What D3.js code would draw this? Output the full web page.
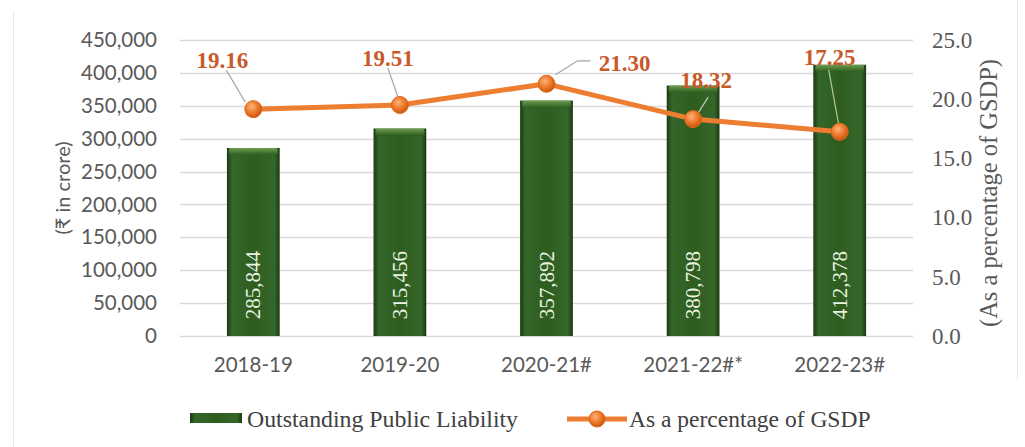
<!DOCTYPE html>
<html>
<head>
<meta charset="utf-8">
<script src="https://cdn.jsdelivr.net/npm/d3@7"></script>
<style>
  html, body { margin: 0; padding: 0; background: #ffffff; }
  svg { display: block; }
</style>
</head>
<body>
<svg id="chart" width="1025" height="447"></svg>
<script>
// ---- data ----
const categories = ["2018-19", "2019-20", "2020-21#", "2021-22#*", "2022-23#"];
const liability = [285844, 315456, 357892, 380798, 412378];
const gsdpPct = [19.16, 19.51, 21.30, 18.32, 17.25];
const leftTicks = [0, 50000, 100000, 150000, 200000, 250000, 300000, 350000, 400000, 450000];
const rightTicks = [0, 5, 10, 15, 20, 25];
const seriesNames = ["Outstanding Public Liability", "As a percentage of GSDP"];
const leftTitle = "(₹ in crore)";
const rightTitle = "(As a percentage of GSDP)";

// ---- layout ----
const W = 1025, H = 447;
const plot = { left: 180, right: 913, top: 40, bottom: 336 };
const SANS = "Lato, 'Liberation Sans', sans-serif";
const SERIF = "'Liberation Serif', 'Times New Roman', serif";
// label offsets relative to each point (layout, not data)
const labelLayout = [
  { dx: -31, dy: -49, leader: [[-27, -39], [-8, -7]] },
  { dx: -12, dy: -47, leader: [[-12, -37], [-2, -8]] },
  { dx: 78, dy: -21, leader: [[44, -23], [31, -23], [9, -9]] },
  { dx: 13, dy: -39, leader: [[15, -22], [5, -6]] },
  { dx: -10, dy: -75, leader: [[-11, -62], [-1, -7]] }
];

const svg = d3.select("#chart");
const defs = svg.append("defs");

const x = d3.scaleBand().domain(categories).range([plot.left, plot.right])
  .paddingInner(0.64).paddingOuter(0.32);
const yL = d3.scaleLinear().domain([0, 450000]).range([plot.bottom, plot.top]);
const yR = d3.scaleLinear().domain([0, 25]).range([plot.bottom, plot.top]);

// gradients
const barGrad = defs.append("linearGradient").attr("id", "barGrad")
  .attr("x1", "0%").attr("x2", "100%").attr("y1", "0%").attr("y2", "0%");
[["0%", "#1c3a10"], ["10%", "#35662a"], ["50%", "#2e5d1e"], ["90%", "#35662a"], ["100%", "#1c3a10"]]
  .forEach(([o, c]) => barGrad.append("stop").attr("offset", o).attr("stop-color", c));
const topGrad = defs.append("linearGradient").attr("id", "topGrad")
  .attr("x1", "0%").attr("x2", "0%").attr("y1", "0%").attr("y2", "100%");
[["0%", "#7aa85a"], ["100%", "#2e5d1e"]]
  .forEach(([o, c]) => topGrad.append("stop").attr("offset", o).attr("stop-color", c));
const dotGrad = defs.append("radialGradient").attr("id", "dotGrad")
  .attr("cx", "40%").attr("cy", "35%").attr("r", "65%");
[["0%", "#fbb37a"], ["55%", "#ee7a2c"], ["100%", "#c8560f"]]
  .forEach(([o, c]) => dotGrad.append("stop").attr("offset", o).attr("stop-color", c));

// faint frame lines
svg.append("line").attr("x1", 13.5).attr("x2", 13.5).attr("y1", 12).attr("y2", 447)
  .attr("stroke", "#dfe7ef").attr("stroke-width", 1);
svg.append("line").attr("x1", 1017.5).attr("x2", 1017.5).attr("y1", 0).attr("y2", 380)
  .attr("stroke", "#e6e9ee").attr("stroke-width", 1);

// gridlines
svg.append("g").selectAll("line").data(leftTicks).join("line")
  .attr("x1", plot.left).attr("x2", plot.right)
  .attr("y1", d => Math.round(yL(d)) + 0.5).attr("y2", d => Math.round(yL(d)) + 0.5)
  .attr("stroke", "#d9d9d9").attr("stroke-width", 1.5);

// left axis
const axL = svg.append("g").attr("transform", `translate(${plot.left},0)`)
  .call(d3.axisLeft(yL).tickValues(leftTicks).tickSize(0).tickPadding(23)
    .tickFormat(d3.format(",")));
axL.select(".domain").remove();
axL.selectAll("text").attr("font-family", SANS).attr("font-size", 20.5).attr("fill", "#595959");

// right axis
const axR = svg.append("g").attr("transform", `translate(${plot.right},0)`)
  .call(d3.axisRight(yR).tickValues(rightTicks).tickSize(0).tickPadding(19)
    .tickFormat(d3.format(".1f")));
axR.select(".domain").remove();
axR.selectAll("text").attr("font-family", SERIF).attr("font-size", 23).attr("fill", "#595959");

// bottom axis
const axB = svg.append("g").attr("transform", `translate(0,${plot.bottom})`)
  .call(d3.axisBottom(x).tickSize(0).tickPadding(21));
axB.select(".domain").remove();
axB.selectAll("text").attr("font-family", SANS).attr("font-size", 20.5).attr("fill", "#595959");

// axis titles
svg.append("text").attr("transform", `translate(70,188) rotate(-90)`)
  .attr("text-anchor", "middle").attr("font-family", SANS).attr("font-size", 20)
  .attr("fill", "#595959").text(leftTitle);
svg.append("text").attr("transform", `translate(997,193) rotate(-90)`)
  .attr("text-anchor", "middle").attr("font-family", SERIF).attr("font-size", 24.5)
  .attr("fill", "#595959").text(rightTitle);

// bars
const bars = svg.append("g");
bars.selectAll("rect.bar").data(liability).join("rect").attr("class", "bar")
  .attr("x", (d, i) => x(categories[i])).attr("width", x.bandwidth())
  .attr("y", d => yL(d)).attr("height", d => yL(0) - yL(d))
  .attr("fill", "url(#barGrad)");
bars.selectAll("rect.top").data(liability).join("rect").attr("class", "top")
  .attr("x", (d, i) => x(categories[i]) + 2).attr("width", x.bandwidth() - 4)
  .attr("y", d => yL(d)).attr("height", 7).attr("rx", 2)
  .attr("fill", "url(#topGrad)").attr("opacity", 0.85);

// bar labels (inside base, rotated)
bars.selectAll("text").data(liability).join("text")
  .attr("transform", (d, i) => `translate(${x(categories[i]) + x.bandwidth() / 2 + 7},285) rotate(-90)`)
  .attr("text-anchor", "middle").attr("font-family", SERIF).attr("font-size", 21)
  .attr("fill", "#eaf4e2").text(d => d3.format(",")(d));

// line
const cx = i => x(categories[i]) + x.bandwidth() / 2;
const line = d3.line().x((d, i) => cx(i)).y(d => yR(d));
svg.append("path").datum(gsdpPct).attr("d", line)
  .attr("fill", "none").attr("stroke", "#ed7d31").attr("stroke-width", 5)
  .attr("stroke-linejoin", "round");

// leader lines
svg.append("g").selectAll("path").data(gsdpPct).join("path")
  .attr("d", (d, i) => d3.line()(labelLayout[i].leader.map(p => [cx(i) + p[0], yR(d) + p[1]])))
  .attr("fill", "none").attr("stroke", (d, i) => (i >= 3 ? "#b7c9a8" : "#a6a6a6")).attr("stroke-width", 1.2);

// markers
svg.append("g").selectAll("circle").data(gsdpPct).join("circle")
  .attr("cx", (d, i) => cx(i)).attr("cy", d => yR(d)).attr("r", 8.5)
  .attr("fill", "url(#dotGrad)").attr("stroke", "#e0661c").attr("stroke-width", 1);

// data labels
svg.append("g").selectAll("text").data(gsdpPct).join("text")
  .attr("x", (d, i) => cx(i) + labelLayout[i].dx).attr("y", (d, i) => yR(d) + labelLayout[i].dy)
  .attr("dy", "0.35em").attr("text-anchor", "middle")
  .attr("font-family", SERIF).attr("font-size", 23).attr("font-weight", "bold")
  .attr("fill", "#c9592a").text(d => d3.format(".2f")(d));

// legend
const lg = svg.append("g");
lg.append("rect").attr("x", 190).attr("y", 413).attr("width", 52).attr("height", 10)
  .attr("fill", "url(#barGrad)");
lg.append("text").attr("x", 247).attr("y", 419).attr("dy", "0.35em")
  .attr("font-family", SERIF).attr("font-size", 23.8).attr("fill", "#404040").text(seriesNames[0]);
lg.append("line").attr("x1", 567).attr("x2", 627).attr("y1", 419).attr("y2", 419)
  .attr("stroke", "#ed7d31").attr("stroke-width", 5);
lg.append("circle").attr("cx", 597).attr("cy", 419).attr("r", 8)
  .attr("fill", "url(#dotGrad)").attr("stroke", "#e0661c").attr("stroke-width", 1);
lg.append("text").attr("x", 629).attr("y", 419).attr("dy", "0.35em")
  .attr("font-family", SERIF).attr("font-size", 23.5).attr("fill", "#404040").text(seriesNames[1]);
</script>
</body>
</html>
